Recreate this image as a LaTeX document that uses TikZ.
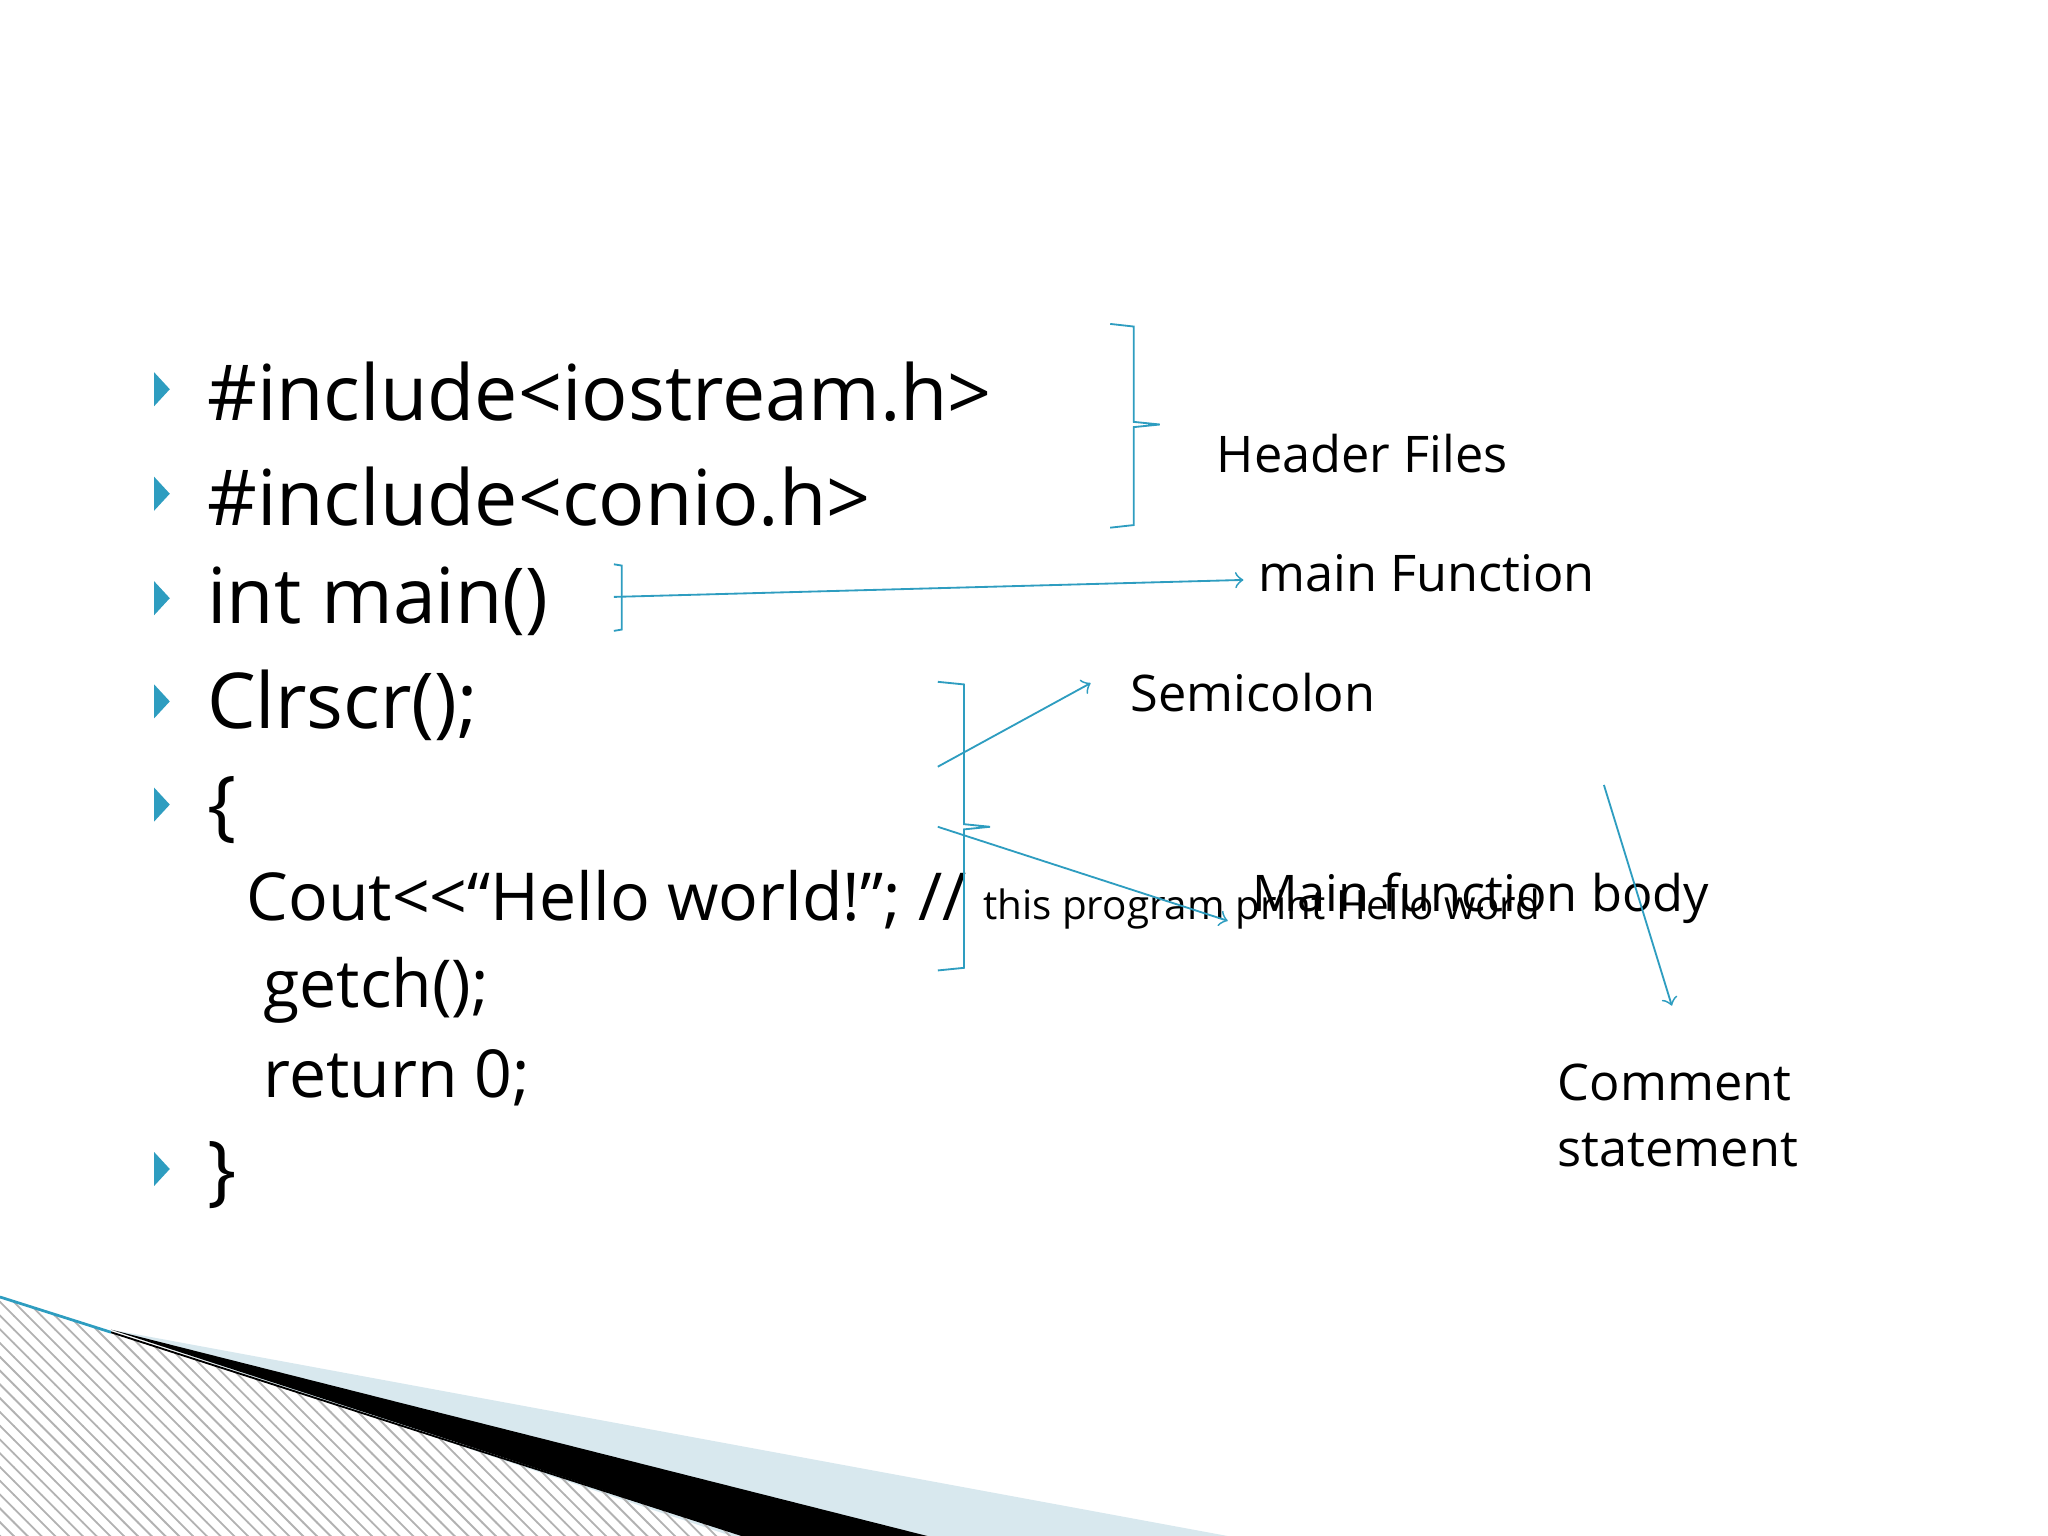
\documentclass[tikz,border=0pt]{standalone}
\usepackage{fontspec}
\setmainfont{Open Sans}
\usetikzlibrary{patterns}
\definecolor{teal1}{HTML}{2E9DC0}
\definecolor{lblue}{HTML}{D8E8EE}
\begin{document}
\begin{tikzpicture}[x=0.1mm,y=-0.1mm,
  bul/.style={fill=teal1,draw=none},
  code/.style={anchor=west,inner sep=0,font=\fontsize{16.8}{20}\selectfont},
  lab/.style={anchor=west,inner sep=0,font=\fontsize{11}{14.5}\selectfont,align=left},
  con/.style={draw=teal1,line width=0.4pt},
  arr/.style={con,->}]
\useasboundingbox (0,0) rectangle (1568,1176);
% bottom decoration
\fill[lblue] (85,1018) -- (940,1176) -- (560,1176) -- cycle;
\fill[black] (85,1018) -- (710,1176) -- (570,1176) -- cycle;
\fill[pattern=north west lines,pattern color=gray!60] (0,993) -- (85,1020) -- (570,1176) -- (0,1176) -- cycle;
\draw[teal1,line width=0.6pt] (0,993) -- (85,1020);
\draw[black,line width=0.4pt] (85,1020) -- (570,1176);
% bullets and code
\foreach \y in {298,378,458,537,616,895}{\fill[bul] (118,\y-13) -- (130,\y) -- (118,\y+13) -- cycle;}
\node[code] (l1) at (158,300) {\#include<iostream.h>};
\node[code] (l2) at (158,380) {\#include<conio.h>};
\node[code] (l3) at (158,460) {int main()};
\node[code] (l4) at (158,540) {Clrscr();};
\node[code] (l5) at (158,620) {\{};
\node[code,font=\fontsize{14.4}{18}\selectfont] (l6) at (188,689) {Cout{<}{<}“Hello world!”; //};
\node[lab,font=\fontsize{8.8}{10}\selectfont] (cm) at (752,696) {this program print Hello word};
\node[code,font=\fontsize{14.4}{18}\selectfont] (l7) at (201,758) {getch();};
\node[code,font=\fontsize{14.4}{18}\selectfont] (l8) at (201,825) {return 0;};
\node[code] (l9) at (158,900) {\}};
% labels
\node[lab] (hf) at (931,347) {Header Files};
\node[lab] (mf) at (963,439) {main Function};
\node[lab] (sc) at (865,530) {Semicolon};
\node[lab] (mb) at (958,688) {Main function body};
\node[lab] (cs) at (1192,854) {Comment\\statement};
% brackets
\draw[con] (850,248) -- (868,250) -- (868,323) -- (888,325) -- (868,327) -- (868,402) -- (850,404);
\draw[con] (470,432) -- (476,433) -- (476,482) -- (470,483);
\draw[arr] (470,457) -- (952,444);
\draw[con] (718,522) -- (738,524) -- (738,631) -- (758,633) -- (738,635) -- (738,741) -- (718,743);
\draw[arr] (718,587) -- (835,523);
\draw[arr] (718,633) -- (940,705);
\coordinate (c1) at (1228,601);
\coordinate (c2) at (1280,770);
\draw[arr] (c1) -- (c2);
\end{tikzpicture}
\end{document}
